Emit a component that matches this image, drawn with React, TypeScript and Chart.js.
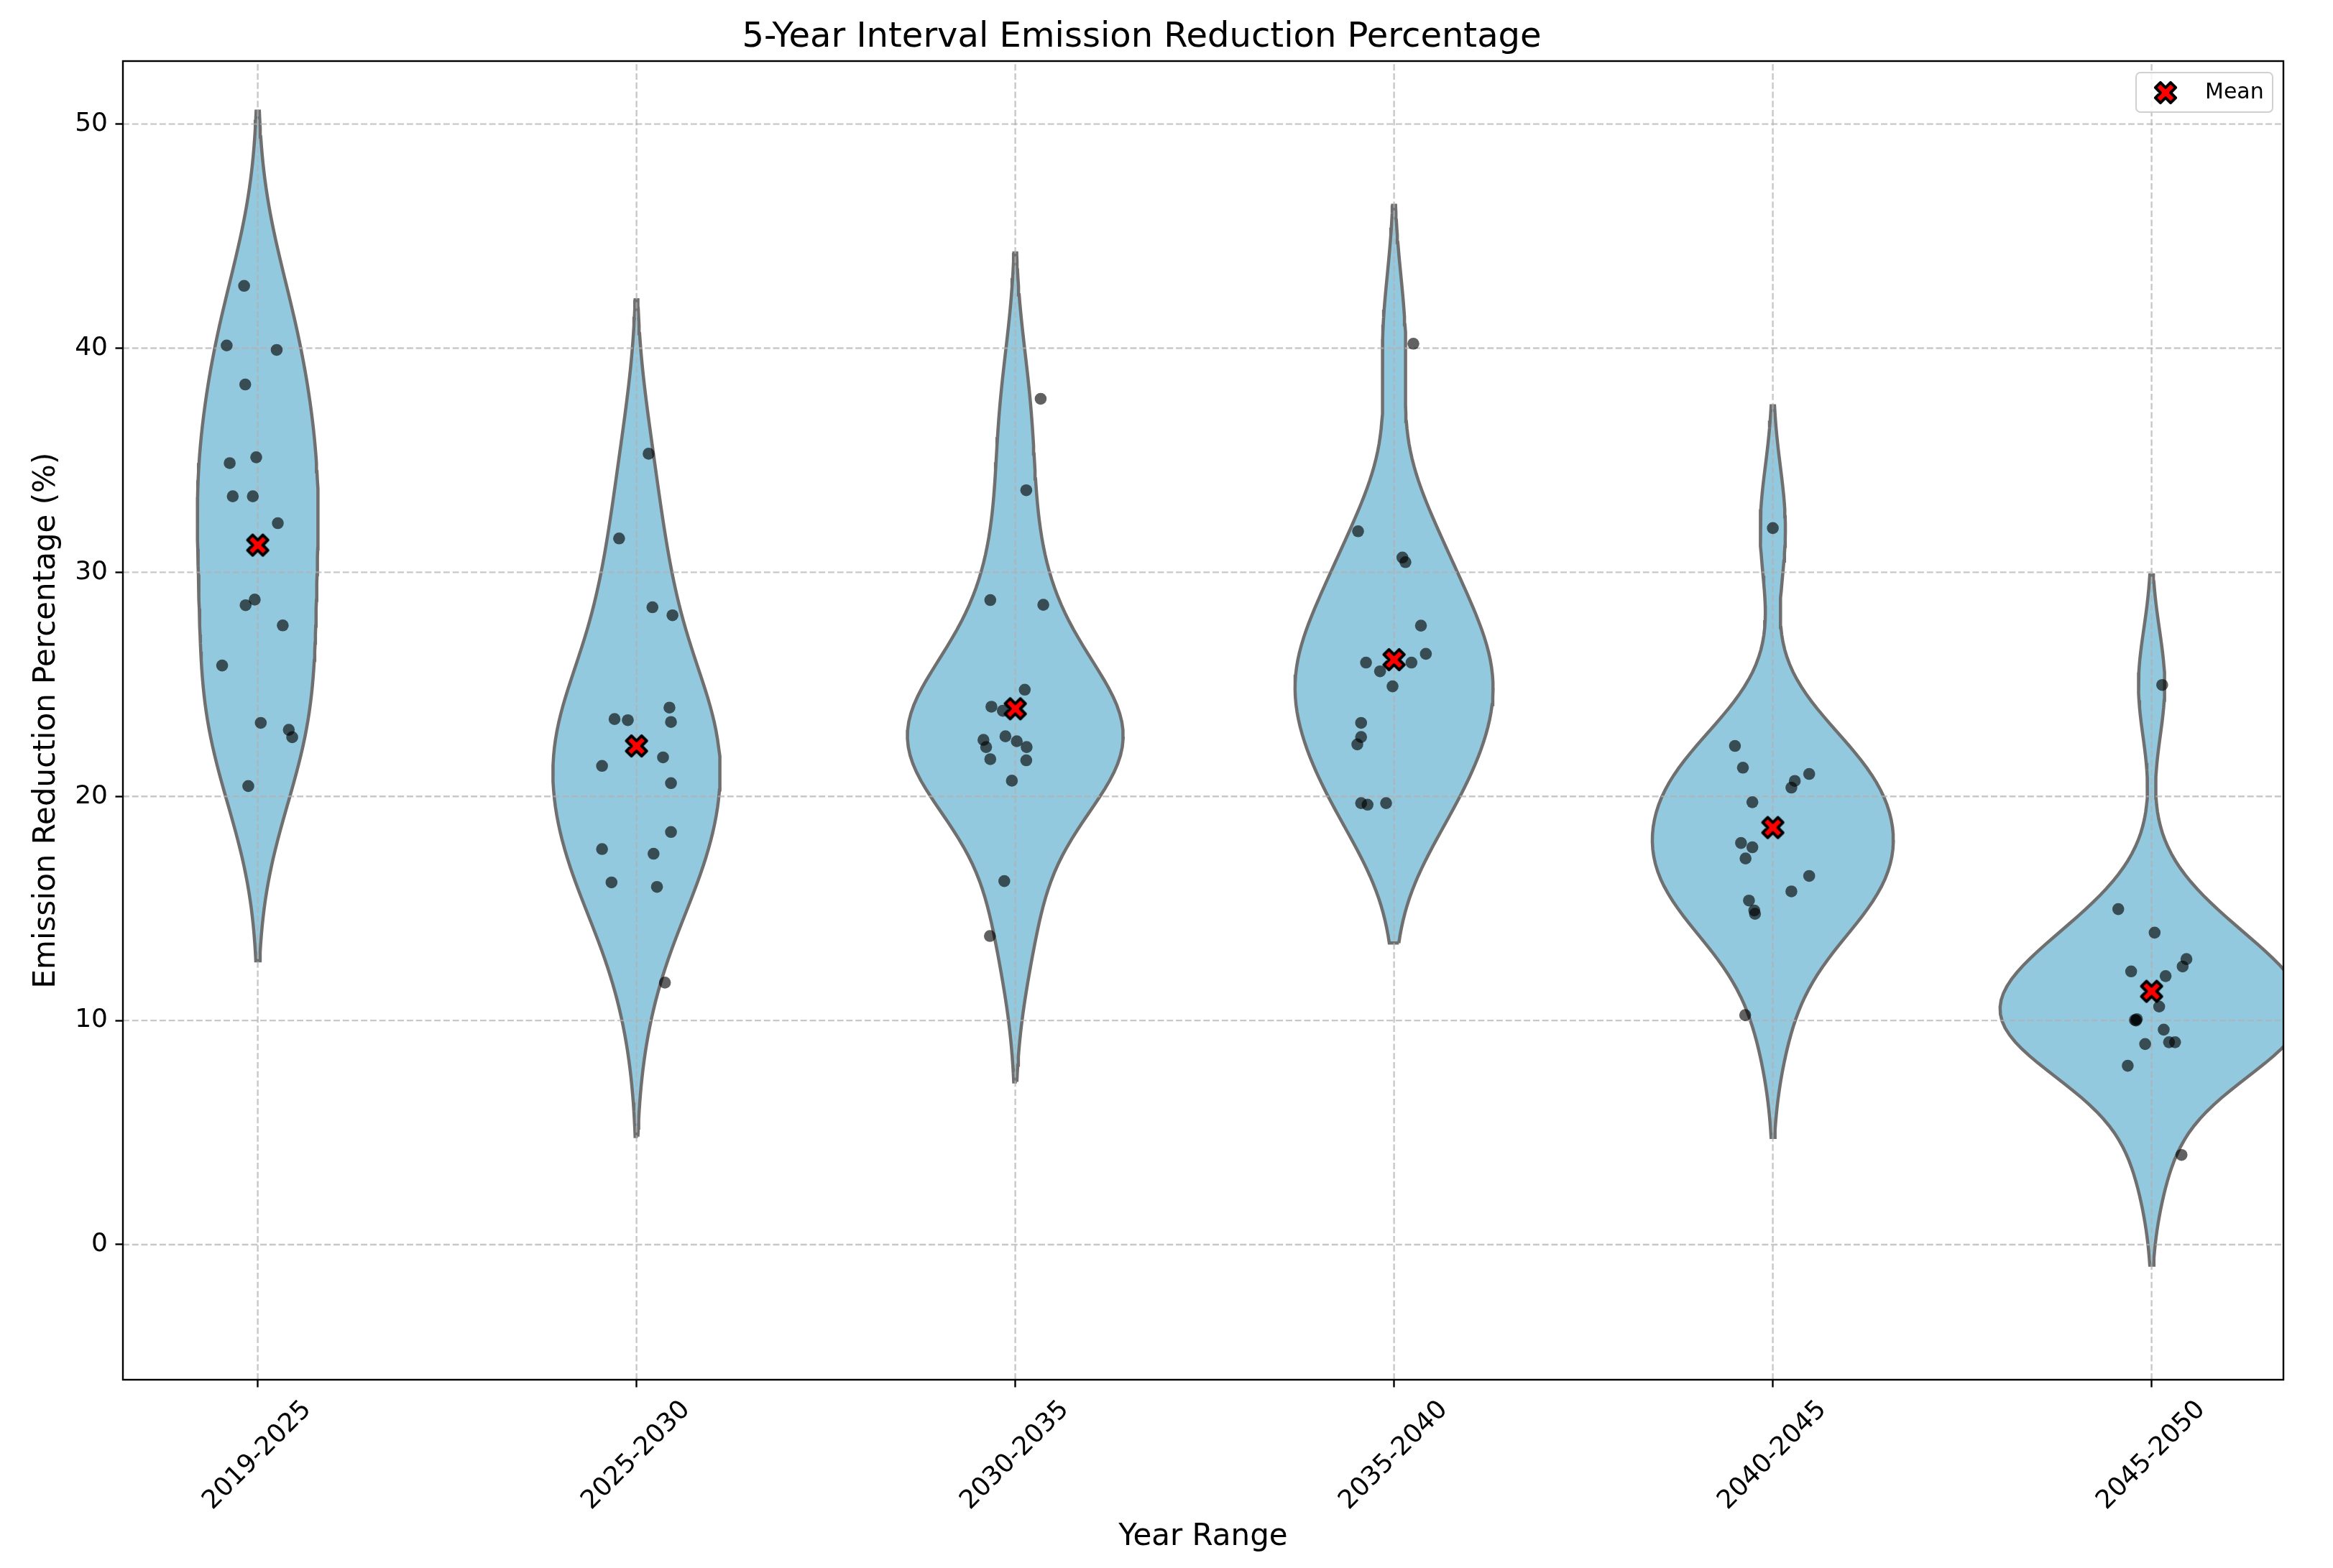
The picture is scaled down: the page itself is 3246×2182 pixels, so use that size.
import { useEffect, useRef } from 'react';
import { Chart, registerables } from 'chart.js';

Chart.register(...registerables);

// ---------- data ----------
const categories = ['2019-2025', '2025-2030', '2030-2035', '2035-2040', '2040-2045', '2045-2050'];

const values2019 = [42.78, 40.12, 39.92, 38.38, 35.13, 34.87, 33.39, 33.39, 32.19, 28.78, 28.53, 27.63, 25.84, 23.28, 22.97, 22.64, 20.46];
const values2025 = [35.29, 31.51, 28.44, 28.08, 23.96, 23.45, 23.40, 23.32, 21.74, 21.36, 20.59, 18.41, 17.65, 17.44, 16.16, 15.96, 11.69];
const values2030 = [37.74, 33.66, 28.76, 28.55, 24.76, 24.00, 23.82, 22.68, 22.52, 22.46, 22.20, 22.20, 21.66, 21.61, 20.70, 16.22, 13.77];
const values2035 = [40.20, 31.83, 30.66, 30.45, 27.62, 26.36, 25.97, 25.97, 25.58, 24.91, 23.28, 22.65, 22.32, 19.70, 19.63, 19.70];
const values2040 = [31.97, 22.25, 21.28, 21.00, 20.69, 20.39, 19.74, 17.92, 17.73, 17.23, 16.45, 15.76, 15.35, 14.91, 14.76, 10.24];
const values2045 = [24.97, 14.97, 13.92, 12.74, 12.41, 12.19, 11.98, 10.62, 10.06, 10.00, 10.02, 9.59, 9.03, 9.03, 8.95, 7.98, 4.00];

// horizontal jitter of the strip points (category units)
const jitter2019 = [-0.036, -0.082, 0.050, -0.033, -0.004, -0.074, -0.066, -0.013, 0.053, -0.008, -0.032, 0.066, -0.094, 0.008, 0.082, 0.091, -0.025];
const jitter2025 = [0.032, -0.046, 0.042, 0.095, 0.087, -0.058, -0.023, 0.091, 0.070, -0.091, 0.091, 0.091, -0.091, 0.045, -0.066, 0.054, 0.075];
const jitter2030 = [0.067, 0.029, -0.066, 0.074, 0.025, -0.063, -0.033, -0.026, -0.084, 0.004, -0.077, 0.030, -0.066, 0.029, -0.009, -0.029, -0.067];
const jitter2035 = [0.051, -0.095, 0.022, 0.030, 0.071, 0.084, -0.074, 0.046, -0.037, -0.004, -0.087, -0.087, -0.097, -0.087, -0.070, -0.021];
const jitter2040 = [0.000, -0.100, -0.079, 0.096, 0.058, 0.049, -0.054, -0.084, -0.054, -0.072, 0.096, 0.049, -0.063, -0.049, -0.047, -0.073];
const jitter2045 = [0.028, -0.088, 0.008, 0.092, 0.082, -0.054, 0.037, 0.020, -0.039, -0.041, -0.044, 0.032, 0.046, 0.062, -0.017, -0.063, 0.079];

const meanValues = [31.21, 22.25, 23.91, 26.10, 18.61, 11.30];

const yTicks = [0, 10, 20, 30, 40, 50];

const seriesValues = [values2019, values2025, values2030, values2035, values2040, values2045];
const seriesJitter = [jitter2019, jitter2025, jitter2030, jitter2035, jitter2040, jitter2045];

// ---------- style ----------
const FONT = 'DejaVu Sans';
const VIOLIN_FILL = '#93c9de';
const VIOLIN_EDGE = '#6f6f6f';

// Gaussian KDE (Scott's rule, cut = 2, gridsize = 100), as seaborn does
function kde(vals: number[]) {
  const n = vals.length;
  const mean = vals.reduce((a, b) => a + b, 0) / n;
  const sd = Math.sqrt(vals.reduce((a, b) => a + (b - mean) * (b - mean), 0) / (n - 1));
  const bw = sd * Math.pow(n, -0.2);
  const lo = Math.min(...vals) - 2 * bw;
  const hi = Math.max(...vals) + 2 * bw;
  const ys: number[] = [];
  const ds: number[] = [];
  const G = 100;
  for (let k = 0; k < G; k++) {
    const y = lo + ((hi - lo) * k) / (G - 1);
    let s = 0;
    for (const v of vals) {
      const z = (y - v) / bw;
      s += Math.exp(-0.5 * z * z);
    }
    ys.push(y);
    ds.push(s / (n * bw * Math.sqrt(2 * Math.PI)));
  }
  return { ys, ds };
}

function makeXMarker(size: number, lw: number) {
  const c = document.createElement('canvas');
  const dim = Math.ceil(size + lw + 6);
  c.width = dim;
  c.height = dim;
  const ctx = c.getContext('2d')!;
  const pts = [[-1, -3], [1, -3], [1, -1], [3, -1], [3, 1], [1, 1], [1, 3], [-1, 3], [-1, 1], [-3, 1], [-3, -1], [-1, -1]];
  ctx.translate(dim / 2, dim / 2);
  ctx.rotate(Math.PI / 4);
  ctx.beginPath();
  pts.forEach(([x, y], i) => {
    const px = (x / 6) * size;
    const py = (y / 6) * size;
    if (i) ctx.lineTo(px, py);
    else ctx.moveTo(px, py);
  });
  ctx.closePath();
  ctx.fillStyle = '#ff0000';
  ctx.fill();
  ctx.lineWidth = lw;
  ctx.lineJoin = 'round';
  ctx.strokeStyle = '#000000';
  ctx.stroke();
  return c;
}

export default function App() {
  const ref = useRef<HTMLCanvasElement>(null);

  useEffect(() => {
    document.body.style.margin = '0';
    const marker = makeXMarker(30, 4.0);

    const kdes = seriesValues.map(kde);
    const globalMax = Math.max(...kdes.map((k) => Math.max(...k.ds)));
    const halfWidth = 0.4;

    const violinSets = kdes.map((k, i) => {
      const right = k.ys.map((y, j) => ({ x: i + (k.ds[j] / globalMax) * halfWidth, y }));
      const left = k.ys.map((y, j) => ({ x: i - (k.ds[j] / globalMax) * halfWidth, y })).reverse();
      const pts = [...right, ...left, right[0]];
      return {
        type: 'line' as const,
        kind: 'violin',
        data: pts,
        borderColor: VIOLIN_EDGE,
        borderWidth: 4.5,
        backgroundColor: VIOLIN_FILL,
        fill: 'shape',
        pointRadius: 0,
        tension: 0,
        clip: 0,
        order: 3,
      };
    });

    const stripPts: { x: number; y: number }[] = [];
    seriesValues.forEach((vals, i) => {
      vals.forEach((v, j) => stripPts.push({ x: i + seriesJitter[i][j], y: v }));
    });

    const stripSet = {
      type: 'scatter' as const,
      kind: 'strip',
      data: stripPts,
      pointRadius: 8.3,
      pointBackgroundColor: 'rgba(0,0,0,0.62)',
      pointBorderWidth: 0,
      order: 2,
    };

    const meanSet = {
      type: 'scatter' as const,
      kind: 'mean',
      label: 'Mean',
      data: meanValues.map((m, i) => ({ x: i, y: m })),
      pointStyle: marker,
      pointRadius: 15,
      order: 1,
    };

    const customPlugin = {
      id: 'custom',
      beforeDatasetDraw(chart: any, args: any) {
        const ds = chart.data.datasets[args.index];
        if (ds.kind !== 'strip') return;
        const { ctx, chartArea: a, scales } = chart;
        ctx.save();
        ctx.beginPath();
        ctx.rect(a.left, a.top, a.right - a.left, a.bottom - a.top);
        ctx.clip();
        ctx.strokeStyle = 'rgba(176,176,176,0.7)';
        ctx.lineWidth = 2.4;
        ctx.setLineDash([8.9, 3.84]);
        for (const t of scales.y.ticks) {
          const py = scales.y.getPixelForValue(t.value);
          ctx.beginPath();
          ctx.moveTo(a.left, py);
          ctx.lineTo(a.right, py);
          ctx.stroke();
        }
        for (const t of scales.x.ticks) {
          const px = scales.x.getPixelForValue(t.value);
          ctx.beginPath();
          ctx.moveTo(px, a.bottom);
          ctx.lineTo(px, a.top);
          ctx.stroke();
        }
        ctx.restore();
      },
      afterDraw(chart: any) {
        const { ctx, chartArea: a } = chart;
        ctx.save();
        // spines
        ctx.strokeStyle = '#000';
        ctx.lineWidth = 2.4;
        ctx.setLineDash([]);
        ctx.strokeRect(a.left, a.top, a.right - a.left, a.bottom - a.top);

        // legend (upper right, inside the axes)
        const bw = 190;
        const bh = 55;
        const bx = a.right - 15 - bw;
        const by = a.top + 16;
        const r = 6;
        ctx.beginPath();
        ctx.moveTo(bx + r, by);
        ctx.lineTo(bx + bw - r, by);
        ctx.arcTo(bx + bw, by, bx + bw, by + r, r);
        ctx.lineTo(bx + bw, by + bh - r);
        ctx.arcTo(bx + bw, by + bh, bx + bw - r, by + bh, r);
        ctx.lineTo(bx + r, by + bh);
        ctx.arcTo(bx, by + bh, bx, by + bh - r, r);
        ctx.lineTo(bx, by + r);
        ctx.arcTo(bx, by, bx + r, by, r);
        ctx.closePath();
        ctx.fillStyle = 'rgba(255,255,255,0.8)';
        ctx.fill();
        ctx.strokeStyle = '#d0d0d0';
        ctx.lineWidth = 2;
        ctx.stroke();
        ctx.drawImage(marker, bx + 41 - marker.width / 2, by + 28 - marker.height / 2);
        ctx.fillStyle = '#000';
        ctx.font = `30px "${FONT}"`;
        ctx.textAlign = 'left';
        ctx.textBaseline = 'alphabetic';
        ctx.fillText(meanSet.label, bx + 96, by + 36);
        ctx.restore();
      },
    };

    const chart = new Chart(ref.current as HTMLCanvasElement, {
      type: 'scatter',
      data: { datasets: [...violinSets, stripSet, meanSet] as any },
      options: {
        responsive: false,
        animation: false,
        devicePixelRatio: 1,
        events: [],
        layout: { padding: { left: 0, right: 69, top: 0, bottom: 0 } },
        plugins: {
          legend: { display: false },
          tooltip: { enabled: false },
          title: {
            display: true,
            text: '5-Year Interval Emission Reduction Percentage',
            color: '#000',
            font: { family: FONT, size: 48, weight: 'normal', lineHeight: 1.2 },
            padding: { top: 23.9, bottom: 3.5 },
          },
        },
        scales: {
          x: {
            type: 'linear',
            min: -0.356,
            max: 5.348,
            afterBuildTicks: (s: any) => {
              s.ticks = categories.map((_, i) => ({ value: i }));
            },
            afterFit: (s: any) => {
              s.height = 262;
            },
            ticks: {
              autoSkip: false,
              minRotation: 45,
              maxRotation: 45,
              labelOffset: 69,
              padding: 10.5,
              color: '#000',
              font: { family: FONT, size: 36 },
              callback: (_v: any, i: number) => categories[i],
            },
            grid: { drawOnChartArea: false, drawTicks: true, tickLength: 10.5, tickColor: '#000', tickWidth: 2.4 },
            border: { display: false },
            title: {
              display: true,
              text: 'Year Range',
              color: '#000',
              font: { family: FONT, size: 42, lineHeight: 1.2 },
              padding: { top: 0, bottom: 17.3 },
            },
          },
          y: {
            type: 'linear',
            min: -6.03,
            max: 52.81,
            afterBuildTicks: (s: any) => {
              s.ticks = yTicks.map((v) => ({ value: v }));
            },
            afterFit: (s: any) => {
              s.width = 171;
            },
            ticks: {
              padding: 10.5,
              color: '#000',
              font: { family: FONT, size: 36 },
              callback: (v: any) => String(v),
            },
            grid: { drawOnChartArea: false, drawTicks: true, tickLength: 10.5, tickColor: '#000', tickWidth: 2.4 },
            border: { display: false },
            title: {
              display: true,
              text: 'Emission Reduction Percentage (%)',
              color: '#000',
              font: { family: FONT, size: 42, lineHeight: 1.2 },
              padding: { top: 40, bottom: 0 },
            },
          },
        },
      } as any,
      plugins: [customPlugin],
    });

    return () => chart.destroy();
  }, []);

  return (
    <div style={{ width: 3246, height: 2182 }}>
      <canvas ref={ref} width={3246} height={2182} style={{ display: 'block', width: 3246, height: 2182 }} />
    </div>
  );
}
